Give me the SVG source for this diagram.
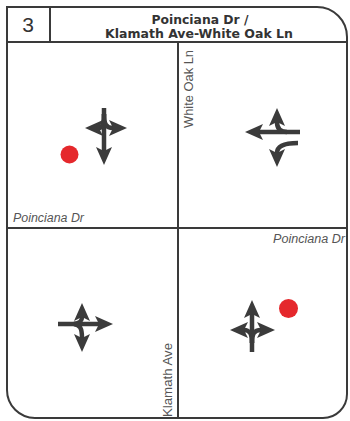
<svg xmlns="http://www.w3.org/2000/svg" width="350" height="421" viewBox="0 0 350 421">
<style>
.frame{fill:none;stroke:#3a3a3a;stroke-width:2}
.arr{fill:none;stroke:#3b3b3b;stroke-width:4.5;stroke-linecap:butt;marker-end:url(#head)}
.dot{fill:#e5282c}
.street{font-family:"Liberation Sans",Arial,sans-serif;font-size:12px;fill:#555}
.ital{font-style:italic}
.title{font-family:"Liberation Sans Narrow","DejaVu Sans Condensed","Liberation Sans",sans-serif;font-size:13px;font-weight:bold;fill:#333;text-anchor:middle}
</style>
<defs>
<marker id="head" markerUnits="userSpaceOnUse" markerWidth="26" markerHeight="26" viewBox="-6 -13 26 26" refX="0" refY="0" orient="auto">
<path d="M-4,-8 L14,0 L-4,8 L0,0 Z" fill="#3b3b3b"/>
</marker>
</defs>
<rect width="350" height="421" fill="#fff"/>
<g id="frame">
<path class="frame" d="M7,7 H317 A30,30 0 0 1 347,37 V394 A24,24 0 0 1 323,418 H35 A28,28 0 0 1 7,390 Z"/>
<line class="frame" x1="7" y1="42" x2="347" y2="42"/>
<line class="frame" x1="50" y1="7" x2="50" y2="42"/>
<line class="frame" x1="178" y1="42" x2="178" y2="418"/>
<line class="frame" x1="7" y1="228" x2="347" y2="228"/>
</g>
<g id="header">
<text x="28" y="32" font-family="Liberation Sans,Arial,sans-serif" font-size="21" fill="#333" text-anchor="middle">3</text>
<text class="title" x="200" y="24" textLength="97" lengthAdjust="spacingAndGlyphs">Poinciana Dr /</text>
<text class="title" x="199" y="38" textLength="188" lengthAdjust="spacingAndGlyphs">Klamath Ave-White Oak Ln</text>
</g>
<g id="quadrant-nw">
<text class="street ital" x="13" y="222" textLength="71" lengthAdjust="spacingAndGlyphs">Poinciana Dr</text>
<circle class="dot" cx="69.5" cy="154.5" r="9"/>
<path class="arr" d="M104,108 V151"/>
<path class="arr" d="M104,114 C104,124 102,128 99,128"/>
<path class="arr" d="M104,114 C104,124 106,128 113,128"/>
</g>
<g id="quadrant-ne">
<text class="street" transform="translate(193,50) rotate(-90)" text-anchor="end" textLength="78" lengthAdjust="spacingAndGlyphs">White Oak Ln</text>
<path class="arr" d="M300,132 H259"/>
<path class="arr" d="M287,132 C280,132 277,128 277,122"/>
<path class="arr" d="M298,143 C286,143 277,146 277,153"/>
</g>
<g id="quadrant-sw">
<text class="street" transform="translate(172,417) rotate(-90)" textLength="74" lengthAdjust="spacingAndGlyphs">Klamath Ave</text>
<path class="arr" d="M58,324 H99"/>
<path class="arr" d="M74,324 C80,323 82,321 82,317"/>
<path class="arr" d="M74,324 C80,325 82,328 82,338"/>
</g>
<g id="quadrant-se">
<text class="street ital" x="345" y="243" text-anchor="end" textLength="72" lengthAdjust="spacingAndGlyphs">Poinciana Dr</text>
<circle class="dot" cx="288.5" cy="308.5" r="9.5"/>
<path class="arr" d="M252,352 V314"/>
<path class="arr" d="M252,343 C252,334 250,330 244,330"/>
<path class="arr" d="M252,343 C252,334 254,330 261,330"/>
</g>
</svg>
